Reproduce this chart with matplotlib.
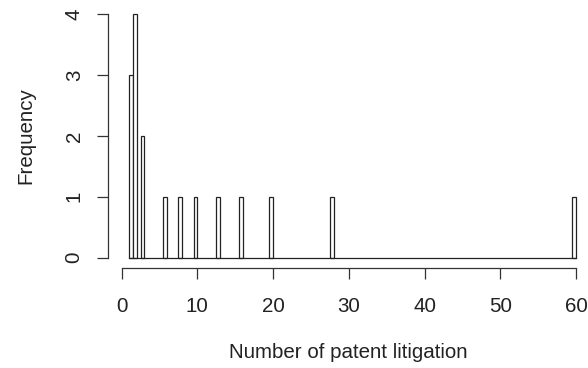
import numpy as np
import matplotlib
matplotlib.use("Agg")
import matplotlib.pyplot as plt

plt.rcParams['font.family'] = ['Liberation Sans', 'DejaVu Sans']

# number of patent litigations per firm
litigation = [1, 1, 1, 2, 2, 2, 2, 3, 3, 6, 8, 10, 13, 16, 20, 28, 60]
breaks = np.arange(1, 60.5, 0.5)
x_ticks = [0, 10, 20, 30, 40, 50, 60]
y_ticks = [0, 1, 2, 3, 4]

# R style right-closed bins, lowest included
idx = np.searchsorted(breaks, litigation, side='left')
idx = np.clip(idx, 1, None) - 1
counts = np.bincount(idx, minlength=len(breaks) - 1)
nz = counts > 0

fig = plt.figure(figsize=(5.88, 3.68), dpi=100)
W, H = 588, 368
left, right, top, bottom = 108, 588, 4.2, 267.5
ax = fig.add_axes([left / W, 1 - bottom / H, (right - left) / W, (bottom - top) / H])

lc = '#222222'
# empty bins show up as the baseline only
ax.plot([breaks[0], breaks[-1]], [0, 0], color=lc, linewidth=0.9)
ax.bar(breaks[:-1][nz], counts[nz], width=0.5, align='edge', facecolor='white',
       edgecolor=lc, linewidth=0.9)

ax.set_xlim(-1.81, 61.585)
ax.set_ylim(-0.16, 4.16)

for s in ['top', 'right']:
    ax.spines[s].set_visible(False)
ax.spines['bottom'].set_bounds(0, 60)
ax.spines['left'].set_bounds(0, 4)
for s in ['bottom', 'left']:
    ax.spines[s].set_color('#333333')
    ax.spines[s].set_linewidth(0.9)

ax.set_xticks(x_ticks)
ax.set_yticks(y_ticks)
ax.tick_params(direction='out', length=8, width=0.9, color='#333333',
               labelsize=14.8, labelcolor='#222222')
ax.tick_params(axis='x', pad=13)
ax.tick_params(axis='y', pad=9.5)
ax.set_yticklabels([str(v) for v in y_ticks], rotation=90, va='center')

ax.set_xlabel('Number of patent litigation', fontsize=14.8, color='#222222', labelpad=20)
ax.set_ylabel('Frequency', fontsize=14.8, color='#222222', labelpad=21)

fig.savefig('out.png', dpi=100)
